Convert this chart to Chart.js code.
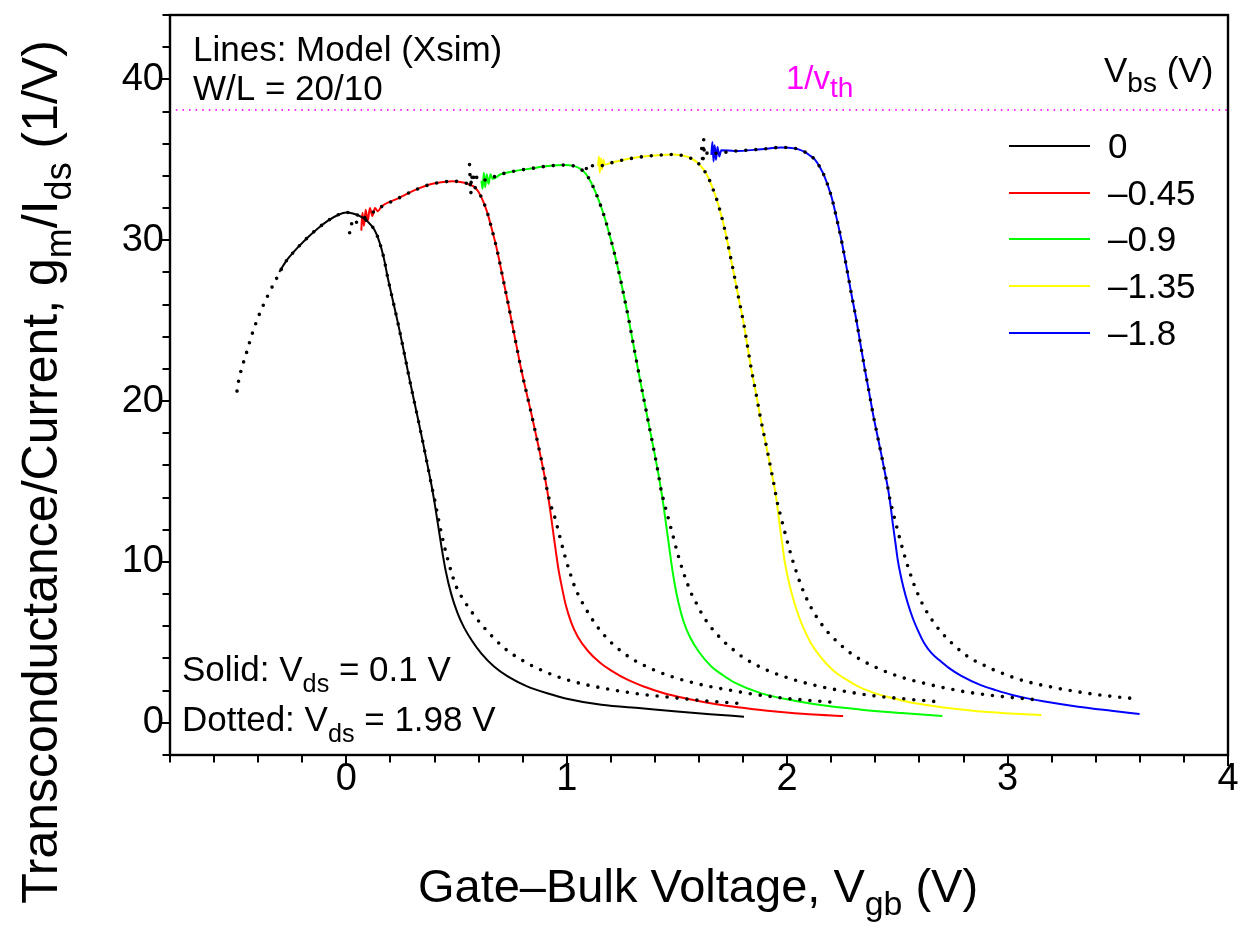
<!DOCTYPE html>
<html><head><meta charset="utf-8">
<script src="https://cdn.jsdelivr.net/npm/chart.js@4/dist/chart.umd.min.js"></script>
<style>html,body{margin:0;padding:0;background:#fff;}#wrap{width:1243px;height:928px;}</style>
</head><body><div id="wrap"><canvas id="c" width="1243" height="928"></canvas></div>
<script>
const FONT = '"Liberation Sans", Arial, Helvetica, sans-serif';

// ---- data (Vgb in V, gm/Ids in 1/V) ----
const vbsLabels = ['0', '\u20130.45', '\u20130.9', '\u20131.35', '\u20131.8'];
const seriesColors = ['#000000', '#ff0000', '#00ff00', '#ffff00', '#0000ff'];
const xTickValues = [0, 1, 2, 3, 4];
const yTickValues = [0, 10, 20, 30, 40];
const invVth = 38.1;

// Vbs = 0
const solid0X = [-0.304,-0.285,-0.265,-0.242,-0.219,-0.174,-0.128,-0.083,-0.038,0.000,0.030,0.068,0.098,0.128,0.150,0.170,0.189,0.212,0.235,0.258,0.280,0.303,0.325,0.348,0.370,0.386,0.400,0.415,0.431,0.450,0.476,0.505,0.535,0.570,0.613,0.670,0.734,0.820,0.915,1.000,1.157,1.338,1.500,1.650,1.804];
const solid0Y = [28.02,28.45,28.85,29.22,29.57,30.19,30.75,31.22,31.57,31.73,31.66,31.45,31.14,30.63,29.90,28.90,27.60,26.20,24.80,23.30,21.80,20.30,18.90,17.40,15.90,14.80,13.70,12.40,11.00,9.50,8.00,6.80,5.90,5.10,4.30,3.50,2.87,2.27,1.82,1.50,1.12,0.90,0.70,0.54,0.38];
const dotted0X = [-0.496,-0.489,-0.452,-0.425,-0.393,-0.353,-0.307,-0.285,-0.265,-0.242,-0.219,-0.174,-0.128,-0.083,-0.038,0.000,0.030,0.068,0.098,0.128,0.150,0.170,0.189,0.212,0.235,0.258,0.280,0.303,0.325,0.348,0.370,0.386,0.401,0.416,0.431,0.446,0.461,0.480,0.499,0.518,0.537,0.579,0.635,0.718,0.809,0.900,0.990,1.081,1.172,1.308,1.470,1.602,1.777];
const dotted0Y = [20.62,21.24,23.05,24.27,25.45,26.65,27.87,28.45,28.85,29.22,29.57,30.19,30.75,31.22,31.57,31.73,31.66,31.45,31.14,30.63,29.90,28.90,27.60,26.20,24.80,23.30,21.80,20.30,18.90,17.40,15.90,14.80,13.85,12.80,11.80,10.90,10.12,9.20,8.46,7.95,7.53,6.70,5.77,4.63,3.80,3.18,2.72,2.39,2.14,1.83,1.58,1.40,1.21];

// Vbs = -0.45
const solid1X = [0.068,0.073,0.080,0.088,0.097,0.107,0.118,0.130,0.143,0.159,0.235,0.310,0.386,0.440,0.484,0.537,0.560,0.582,0.600,0.620,0.640,0.658,0.675,0.690,0.705,0.720,0.735,0.749,0.771,0.794,0.816,0.839,0.862,0.885,0.900,0.912,0.925,0.938,0.950,0.963,0.977,0.995,1.020,1.050,1.097,1.150,1.202,1.280,1.353,1.430,1.505,1.620,1.732,1.850,1.959,2.100,2.254];
const solid1Y = [30.6,31.7,30.9,31.9,31.2,32.0,31.5,32.0,31.8,32.08,32.60,33.11,33.49,33.62,33.67,33.57,33.45,33.30,33.00,32.45,31.70,30.80,29.90,29.00,28.00,27.00,26.00,25.03,23.50,21.93,20.60,19.24,17.80,16.33,15.30,14.40,13.20,11.90,10.70,9.50,8.50,7.35,6.25,5.35,4.45,3.75,3.25,2.65,2.24,1.88,1.62,1.30,1.05,0.85,0.69,0.53,0.42];
const dotted1X = [0.015,0.023,0.030,0.038,0.053,0.076,0.159,0.235,0.310,0.386,0.440,0.484,0.537,0.560,0.582,0.600,0.620,0.640,0.658,0.675,0.690,0.705,0.720,0.735,0.749,0.771,0.794,0.816,0.839,0.862,0.885,0.900,0.912,0.926,0.945,0.968,0.990,1.013,1.036,1.058,1.081,1.108,1.136,1.170,1.210,1.250,1.299,1.387,1.476,1.565,1.655,1.744,1.830,1.919,2.007,2.095,2.231];
const dotted1Y = [30.46,31.04,30.80,30.94,31.25,31.36,32.08,32.60,33.11,33.49,33.62,33.67,33.57,33.45,33.30,33.00,32.45,31.70,30.80,29.90,29.00,28.00,27.00,26.00,25.03,23.50,21.93,20.60,19.24,17.80,16.33,15.30,14.40,13.60,12.81,11.60,10.45,9.40,8.46,7.80,7.22,6.60,6.02,5.45,4.88,4.42,3.95,3.34,2.87,2.52,2.24,2.02,1.81,1.65,1.50,1.40,1.25];

// Vbs = -0.9
const solid2X = [0.613,0.618,0.624,0.630,0.637,0.645,0.654,0.664,0.700,0.764,0.839,0.915,0.990,1.030,1.060,1.085,1.110,1.130,1.150,1.172,1.195,1.218,1.240,1.260,1.278,1.308,1.330,1.353,1.376,1.399,1.414,1.429,1.440,1.452,1.464,1.476,1.490,1.508,1.530,1.560,1.600,1.656,1.710,1.762,1.883,2.034,2.186,2.337,2.518,2.704];
const solid2Y = [33.7,33.2,34.2,33.3,34.1,33.5,34.1,33.8,34.10,34.30,34.46,34.61,34.67,34.62,34.45,34.15,33.60,33.00,32.30,31.40,30.30,29.10,27.80,26.50,25.30,23.10,21.50,19.90,18.30,16.70,15.60,14.40,13.40,12.20,11.00,9.80,8.60,7.40,6.30,5.30,4.40,3.50,2.95,2.50,1.83,1.37,1.04,0.82,0.61,0.42];
const dotted2X = [0.559,0.565,0.567,0.575,0.582,0.598,0.620,0.700,0.764,0.839,0.915,0.990,1.030,1.060,1.085,1.110,1.130,1.150,1.172,1.195,1.218,1.240,1.260,1.278,1.308,1.330,1.353,1.376,1.399,1.414,1.429,1.440,1.460,1.483,1.505,1.528,1.550,1.568,1.588,1.612,1.641,1.675,1.714,1.755,1.800,1.889,1.978,2.066,2.155,2.246,2.337,2.427,2.508,2.597,2.685];
const dotted2Y = [34.7,32.9,34.05,33.6,34.2,33.74,33.73,34.10,34.30,34.46,34.61,34.67,34.62,34.45,34.15,33.60,33.00,32.30,31.40,30.30,29.10,27.80,26.50,25.30,23.10,21.50,19.90,18.30,16.70,15.60,14.40,13.80,12.75,11.57,10.43,9.40,8.56,7.95,7.43,6.80,6.18,5.60,5.04,4.55,4.07,3.39,2.91,2.54,2.24,2.00,1.79,1.62,1.52,1.41,1.31];

// Vbs = -1.35
const solid3X = [1.142,1.146,1.150,1.155,1.160,1.166,1.172,1.202,1.250,1.308,1.370,1.429,1.482,1.535,1.565,1.595,1.620,1.642,1.660,1.680,1.700,1.718,1.735,1.752,1.770,1.785,1.800,1.819,1.838,1.857,1.875,1.894,1.913,1.928,1.943,1.955,1.966,1.978,1.988,1.999,2.013,2.034,2.056,2.079,2.108,2.140,2.175,2.216,2.270,2.322,2.390,2.458,2.550,2.654,2.770,2.881,3.010,3.153];
const solid3Y = [34.6,35.2,34.2,35.1,34.4,35.0,34.7,34.81,34.97,35.12,35.23,35.30,35.33,35.23,35.08,34.80,34.40,33.90,33.30,32.55,31.60,30.60,29.50,28.35,27.10,26.05,25.03,23.50,21.93,20.60,19.24,17.95,16.70,15.65,14.60,13.50,12.30,11.10,10.10,9.30,8.45,7.40,6.50,5.75,4.95,4.30,3.72,3.18,2.68,2.26,1.88,1.60,1.30,1.06,0.86,0.70,0.58,0.48];
const dotted3X = [1.089,1.094,1.099,1.109,1.142,1.202,1.250,1.308,1.370,1.429,1.482,1.535,1.565,1.595,1.620,1.642,1.660,1.680,1.700,1.718,1.735,1.752,1.770,1.785,1.800,1.819,1.838,1.857,1.875,1.894,1.913,1.928,1.943,1.952,1.966,1.981,1.996,2.011,2.027,2.045,2.064,2.084,2.107,2.128,2.155,2.190,2.234,2.276,2.322,2.367,2.410,2.455,2.497,2.541,2.586,2.628,2.672,2.718,2.763,2.807,2.851,2.896,2.939,2.984,3.028,3.073,3.117];
const dotted3Y = [34.46,34.56,34.77,34.67,34.60,34.81,34.97,35.12,35.23,35.30,35.33,35.23,35.08,34.80,34.40,33.90,33.30,32.55,31.60,30.60,29.50,28.35,27.10,26.05,25.03,23.50,21.93,20.60,19.24,17.95,16.70,15.65,14.60,13.90,13.10,12.30,11.50,10.75,10.00,9.25,8.50,7.85,7.20,6.70,6.15,5.55,4.95,4.45,4.02,3.68,3.40,3.14,2.93,2.74,2.58,2.44,2.30,2.16,2.04,1.93,1.84,1.76,1.69,1.62,1.56,1.50,1.45];

// Vbs = -1.8
const solid4X = [1.656,1.661,1.666,1.671,1.677,1.684,1.692,1.701,1.762,1.883,1.974,2.034,2.055,2.079,2.100,2.125,2.148,2.170,2.201,2.223,2.246,2.269,2.291,2.314,2.333,2.352,2.371,2.389,2.408,2.427,2.442,2.457,2.469,2.480,2.492,2.502,2.513,2.527,2.548,2.570,2.593,2.622,2.654,2.690,2.730,2.790,2.881,2.950,3.017,3.090,3.168,3.320,3.471,3.599];
const solid4Y = [35.3,36.1,34.9,35.9,35.0,35.8,35.2,35.6,35.54,35.66,35.77,35.71,35.63,35.49,35.30,35.02,34.55,33.94,32.70,31.45,30.01,28.35,26.69,25.03,23.50,22.00,20.60,19.24,17.95,16.70,15.65,14.60,13.50,12.30,11.10,10.10,9.30,8.45,7.40,6.50,5.75,4.95,4.35,3.90,3.45,2.92,2.33,2.02,1.75,1.52,1.32,1.00,0.75,0.55];
const dotted4X = [1.612,1.615,1.618,1.621,1.624,1.628,1.641,1.656,1.762,1.883,1.974,2.034,2.055,2.079,2.100,2.125,2.148,2.170,2.201,2.223,2.246,2.269,2.291,2.314,2.333,2.352,2.371,2.389,2.408,2.427,2.442,2.457,2.466,2.480,2.495,2.510,2.525,2.541,2.559,2.578,2.598,2.621,2.645,2.672,2.707,2.748,2.794,2.836,2.881,2.926,2.972,3.014,3.059,3.105,3.149,3.193,3.236,3.282,3.327,3.371,3.413,3.459,3.504,3.549,3.592];
const dotted4Y = [35.70,35.19,34.77,36.28,35.39,35.23,35.49,35.39,35.54,35.66,35.77,35.71,35.63,35.49,35.30,35.02,34.55,33.94,32.70,31.45,30.01,28.35,26.69,25.03,23.50,22.00,20.60,19.24,17.95,16.70,15.65,14.60,13.90,13.10,12.30,11.50,10.75,10.00,9.25,8.50,7.85,7.20,6.65,6.10,5.52,4.94,4.38,3.97,3.66,3.36,3.10,2.88,2.67,2.50,2.36,2.24,2.12,2.01,1.91,1.82,1.74,1.67,1.60,1.54,1.48];

const solidX = [solid0X, solid1X, solid2X, solid3X, solid4X];
const solidY = [solid0Y, solid1Y, solid2Y, solid3Y, solid4Y];
const dottedX = [dotted0X, dotted1X, dotted2X, dotted3X, dotted4X];
const dottedY = [dotted0Y, dotted1Y, dotted2Y, dotted3Y, dotted4Y];

const pts = (xs, ys) => xs.map((x, i) => ({ x: x, y: ys[i] }));

const datasets = [];
// dotted (Vds = 1.98 V) drawn on top
dottedX.forEach((xs, i) => datasets.push({
  label: 'dotted ' + vbsLabels[i], data: pts(xs, dottedY[i]), order: 0,
  showLine: true, borderColor: '#000', borderWidth: 3.6, borderDash: [0, 10],
  borderCapStyle: 'round', pointRadius: 0, cubicInterpolationMode: 'monotone', fill: false
}));
// solid (Vds = 0.1 V)
solidX.forEach((xs, i) => datasets.push({
  label: vbsLabels[i], data: pts(xs, solidY[i]), order: 1,
  showLine: true, borderColor: seriesColors[i], borderWidth: 2, pointRadius: 0,
  cubicInterpolationMode: 'monotone', fill: false
}));
// 1/vth reference line
datasets.push({
  label: '1/vth', data: [{ x: -0.8, y: invVth }, { x: 4, y: invVth }], order: 2,
  showLine: true, borderColor: '#ff00ff', borderWidth: 1.8, borderDash: [0, 6.6],
  borderCapStyle: 'round', pointRadius: 0, fill: false
});

const SUB = 0.72;
function drawRich(ctx, parts, x, y, size, align, subDrop) {
  const ws = []; let total = 0;
  parts.forEach(p => {
    ctx.font = (p.sub ? size * (p.scale || SUB) : size) + 'px ' + FONT;
    const w = ctx.measureText(p.t).width; ws.push(w); total += w;
  });
  let cx = align === 'center' ? x - total / 2 : (align === 'right' ? x - total : x);
  ctx.textAlign = 'left'; ctx.textBaseline = 'alphabetic';
  parts.forEach((p, i) => {
    ctx.font = (p.sub ? size * (p.scale || SUB) : size) + 'px ' + FONT;
    ctx.fillText(p.t, cx, y + (p.sub ? (subDrop !== undefined ? subDrop : size * 0.3) : 0));
    cx += ws[i];
  });
}

const decor = {
  id: 'decor',
  afterDraw(chart) {
    const ctx = chart.ctx, a = chart.chartArea;
    const xs = chart.scales.x, ys = chart.scales.y;
    ctx.save();
    // frame
    ctx.strokeStyle = '#000'; ctx.lineWidth = 2.4;
    ctx.strokeRect(a.left, a.top, a.right - a.left, a.bottom - a.top);
    // ticks (major + minor)
    ctx.lineWidth = 2;
    ctx.beginPath();
    for (let i = -4; i <= 20; i++) {
      const v = i / 5, px = Math.round(xs.getPixelForValue(v));
      const len = (i % 5 === 0) ? 11 : 7.5;
      ctx.moveTo(px, a.bottom); ctx.lineTo(px, a.bottom + len);
    }
    for (let i = -1; i <= 22; i++) {
      const v = i * 2, py = Math.round(ys.getPixelForValue(v));
      const len = (v % 10 === 0) ? 10 : 7.5;
      ctx.moveTo(a.left, py); ctx.lineTo(a.left - len, py);
    }
    ctx.stroke();

    ctx.fillStyle = '#000';
    // annotations
    drawRich(ctx, [{ t: 'Lines: Model (Xsim)' }], 193, 61, 35, 'left');
    drawRich(ctx, [{ t: 'W/L = 20/10' }], 193, 100, 35, 'left');
    drawRich(ctx, [{ t: 'Solid: V' }, { t: 'ds', sub: true }, { t: ' = 0.1 V' }], 182, 681, 35, 'left', 10.5);
    drawRich(ctx, [{ t: 'Dotted: V' }, { t: 'ds', sub: true }, { t: ' = 1.98 V' }], 182, 731, 35, 'left', 10.5);

    // 1/vth label
    ctx.fillStyle = '#ff00ff';
    drawRich(ctx, [{ t: '1/v' }, { t: 'th', sub: true, scale: 0.85 }], 786, 89, 33, 'left', 8);

    // legend
    ctx.fillStyle = '#000';
    drawRich(ctx, [{ t: 'V' }, { t: 'bs', sub: true, scale: 0.8 }, { t: ' (V)' }], 1104, 82, 35, 'left', 10);
    const ly0 = 146, dy = 46.7;
    vbsLabels.forEach((lab, i) => {
      const y = Math.round(ly0 + i * dy);
      ctx.strokeStyle = seriesColors[i]; ctx.lineWidth = 2;
      ctx.beginPath(); ctx.moveTo(1009, y); ctx.lineTo(1090, y); ctx.stroke();
      ctx.fillStyle = '#000';
      drawRich(ctx, [{ t: lab }], 1108, y + 12, 35, 'left');
    });

    // axis titles
    drawRich(ctx, [{ t: 'Gate\u2013Bulk Voltage, V' }, { t: 'gb', sub: true }, { t: ' (V)' }], 698, 902, 47, 'center', 13);
    ctx.translate(57, 472);
    ctx.rotate(-Math.PI / 2);
    drawRich(ctx, [{ t: 'Transconductance/Current, g' }, { t: 'm', sub: true }, { t: '/I' }, { t: 'ds', sub: true }, { t: ' (1/V)' }], 0, 0, 50, 'center', 14);
    ctx.restore();
  }
};

new Chart(document.getElementById('c'), {
  type: 'scatter',
  data: { datasets: datasets },
  options: {
    responsive: false, animation: false, devicePixelRatio: 1,
    layout: { padding: { left: 0, top: 15, right: 15, bottom: 0 } },
    plugins: { legend: { display: false }, tooltip: { enabled: false }, title: { display: false } },
    elements: { line: { tension: 0 } },
    scales: {
      x: {
        type: 'linear', min: -0.8, max: 4,
        afterFit: s => { s.height = 173; s.paddingLeft = 0; s.paddingRight = 0; },
        afterBuildTicks: s => { s.ticks = xTickValues.map(v => ({ value: v })); },
        ticks: { font: { family: FONT, size: 38 }, color: '#000', padding: 2, maxRotation: 0, autoSkip: false,
                 callback: v => String(v) },
        grid: { display: false, drawTicks: false }, border: { display: false }
      },
      y: {
        type: 'linear', min: -2, max: 44,
        afterFit: s => { s.width = 170; s.paddingTop = 0; s.paddingBottom = 0; },
        afterBuildTicks: s => { s.ticks = yTickValues.map(v => ({ value: v })); },
        ticks: { font: { family: FONT, size: 38 }, color: '#000', padding: 6, autoSkip: false,
                 callback: v => String(v) },
        grid: { display: false, drawTicks: false }, border: { display: false }
      }
    }
  },
  plugins: [decor]
});
</script>
</body></html>
